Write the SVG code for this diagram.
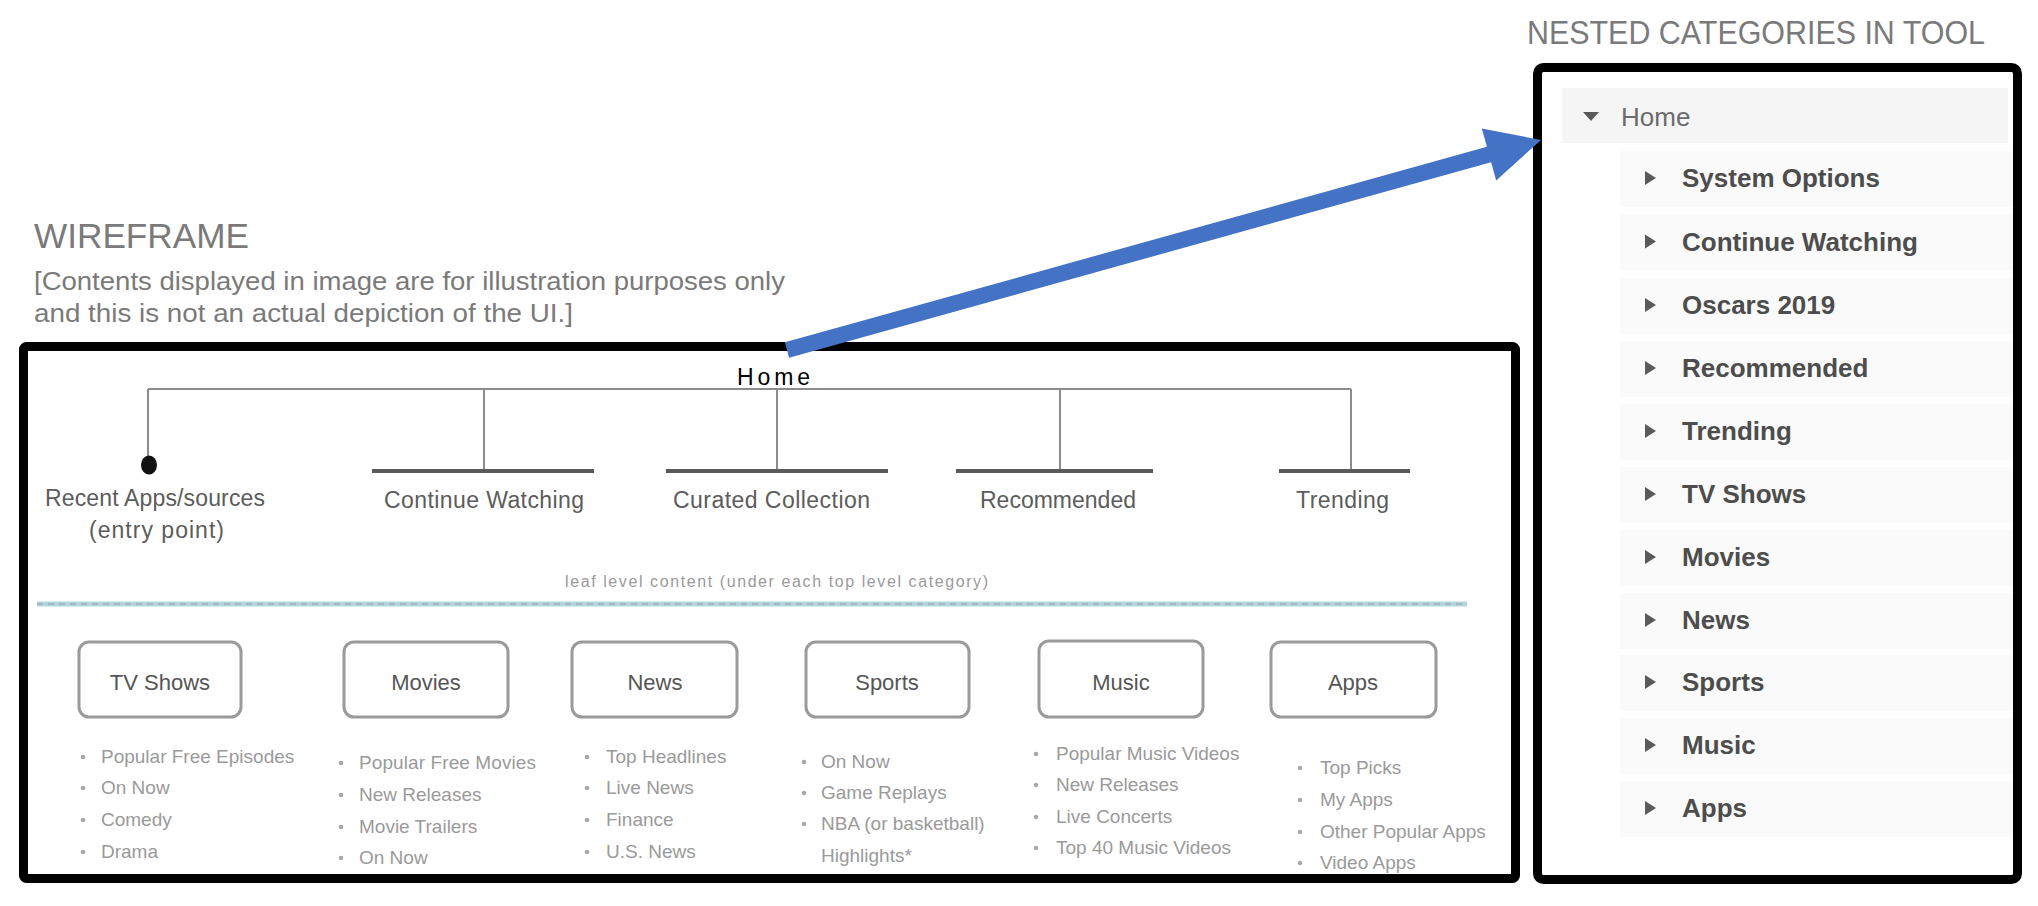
<svg xmlns="http://www.w3.org/2000/svg" width="2038" height="906" viewBox="0 0 2038 906">
<style>
  .head { font-family: "Liberation Sans", Arial, sans-serif; fill: #7a7a7a; }
  .lbl { font-family: "Liberation Sans", Arial, sans-serif; font-size: 23px; fill: #5c5c5c; }
  .box { fill: #ffffff; stroke: #9a9a9a; stroke-width: 3; }
  .boxt { font-family: "Liberation Sans", Arial, sans-serif; font-size: 22px; fill: #555555; text-anchor: middle; }
  .li { font-family: "Liberation Sans", Arial, sans-serif; font-size: 19px; fill: #9a9a9a; }
  .bul { fill: #a8a8a8; }
  .thin { stroke: #8c8c8c; stroke-width: 2; fill: none; }
  .bar { stroke: #5a5a5a; stroke-width: 4; fill: none; }
  .frame { fill: none; stroke: #000000; stroke-width: 9; }
  .row { fill: #fafafa; }
  .rowt { font-family: "Liberation Sans", Arial, sans-serif; font-size: 26px; font-weight: bold; fill: #4d4d4d; }
  .tri { fill: #5a5a5a; }
</style>

<!-- Headings -->
<g id="wireframe-title">
  <text class="head" x="34" y="248" font-size="35" textLength="215" lengthAdjust="spacingAndGlyphs">WIREFRAME</text>
  <text class="head" x="34" y="290" font-size="26" textLength="751" lengthAdjust="spacingAndGlyphs">[Contents displayed in image are for illustration purposes only</text>
  <text class="head" x="34" y="322" font-size="26" textLength="539" lengthAdjust="spacingAndGlyphs">and this is not an actual depiction of the UI.]</text>
</g>
<g id="tool-title">
  <text class="head" x="1527" y="44" font-size="34" textLength="458" lengthAdjust="spacingAndGlyphs">NESTED CATEGORIES IN TOOL</text>
</g>

<!-- Wireframe panel -->
<g id="wireframe">
  <g id="wf-home"><text x="737" y="385" font-family="Liberation Sans, Arial, sans-serif" font-size="23" fill="#000" textLength="73">Home</text></g>

  <g id="connectors">
    <path class="thin" d="M148 389 H1351 M148 389 V456 M484 389 V470 M777 389 V470 M1060 389 V470 M1351 389 V470"/>
    <path class="bar" d="M372 471 H594 M666 471 H888 M956 471 H1153 M1279 471 H1410"/>
    <ellipse cx="149" cy="465" rx="8" ry="9.5" fill="#111"/>
  </g>

  <g id="cat-recent"><text class="lbl" x="45" y="506" textLength="220">Recent Apps/sources</text><text class="lbl" x="89" y="538" textLength="135">(entry point)</text></g>
  <g id="cat-continue"><text class="lbl" x="384" y="508" textLength="200">Continue Watching</text></g>
  <g id="cat-curated"><text class="lbl" x="673" y="508" textLength="197">Curated Collection</text></g>
  <g id="cat-recommended"><text class="lbl" x="980" y="508" textLength="156">Recommended</text></g>
  <g id="cat-trending"><text class="lbl" x="1296" y="508" textLength="93">Trending</text></g>

  <g id="leaf-note">
    <text x="565" y="587" font-family="Liberation Sans, Arial, sans-serif" font-size="16" fill="#9a9a9a" textLength="423">leaf level content (under each top level category)</text>
    <line x1="37" y1="604" x2="1467" y2="604" stroke="#b3d6de" stroke-width="5"/>
    <line x1="37" y1="604" x2="1467" y2="604" stroke="#a3b8c0" stroke-width="2" stroke-dasharray="6 5"/>
  </g>

  <g id="leaf-tv">
    <rect class="box" x="79" y="642" width="162" height="75" rx="10"/>
    <text class="boxt" x="160" y="690">TV Shows</text>
    <circle class="bul" cx="83" cy="757" r="2.3"/><text class="li" x="101" y="763">Popular Free Episodes</text>
    <circle class="bul" cx="83" cy="788" r="2.3"/><text class="li" x="101" y="794">On Now</text>
    <circle class="bul" cx="83" cy="820" r="2.3"/><text class="li" x="101" y="826">Comedy</text>
    <circle class="bul" cx="83" cy="852" r="2.3"/><text class="li" x="101" y="858">Drama</text>
  </g>
  <g id="leaf-movies">
    <rect class="box" x="344" y="642" width="164" height="75" rx="10"/>
    <text class="boxt" x="426" y="690">Movies</text>
    <circle class="bul" cx="341" cy="763" r="2.3"/><text class="li" x="359" y="769" textLength="177">Popular Free Movies</text>
    <circle class="bul" cx="341" cy="795" r="2.3"/><text class="li" x="359" y="801">New Releases</text>
    <circle class="bul" cx="341" cy="827" r="2.3"/><text class="li" x="359" y="833">Movie Trailers</text>
    <circle class="bul" cx="341" cy="858" r="2.3"/><text class="li" x="359" y="864">On Now</text>
  </g>
  <g id="leaf-news">
    <rect class="box" x="572" y="642" width="165" height="75" rx="10"/>
    <text class="boxt" x="655" y="690">News</text>
    <circle class="bul" cx="587" cy="757" r="2.3"/><text class="li" x="606" y="763">Top Headlines</text>
    <circle class="bul" cx="587" cy="788" r="2.3"/><text class="li" x="606" y="794">Live News</text>
    <circle class="bul" cx="587" cy="820" r="2.3"/><text class="li" x="606" y="826">Finance</text>
    <circle class="bul" cx="587" cy="852" r="2.3"/><text class="li" x="606" y="858">U.S. News</text>
  </g>
  <g id="leaf-sports">
    <rect class="box" x="806" y="642" width="163" height="75" rx="10"/>
    <text class="boxt" x="887" y="690">Sports</text>
    <circle class="bul" cx="804" cy="762" r="2.3"/><text class="li" x="821" y="768">On Now</text>
    <circle class="bul" cx="804" cy="793" r="2.3"/><text class="li" x="821" y="799">Game Replays</text>
    <circle class="bul" cx="804" cy="824" r="2.3"/><text class="li" x="821" y="830">NBA (or basketball)</text>
    <text class="li" x="821" y="862">Highlights*</text>
  </g>
  <g id="leaf-music">
    <rect class="box" x="1039" y="641" width="164" height="76" rx="10"/>
    <text class="boxt" x="1121" y="690">Music</text>
    <circle class="bul" cx="1036" cy="754" r="2.3"/><text class="li" x="1056" y="760">Popular Music Videos</text>
    <circle class="bul" cx="1036" cy="785" r="2.3"/><text class="li" x="1056" y="791">New Releases</text>
    <circle class="bul" cx="1036" cy="817" r="2.3"/><text class="li" x="1056" y="823">Live Concerts</text>
    <circle class="bul" cx="1036" cy="848" r="2.3"/><text class="li" x="1056" y="854">Top 40 Music Videos</text>
  </g>
  <g id="leaf-apps">
    <rect class="box" x="1271" y="642" width="165" height="75" rx="10"/>
    <text class="boxt" x="1353" y="690">Apps</text>
    <circle class="bul" cx="1300" cy="768" r="2.3"/><text class="li" x="1320" y="774">Top Picks</text>
    <circle class="bul" cx="1300" cy="800" r="2.3"/><text class="li" x="1320" y="806">My Apps</text>
    <circle class="bul" cx="1300" cy="832" r="2.3"/><text class="li" x="1320" y="838">Other Popular Apps</text>
    <circle class="bul" cx="1300" cy="863" r="2.3"/><text class="li" x="1320" y="869">Video Apps</text>
  </g>

  <rect id="wf-frame" class="frame" x="23.5" y="346.5" width="1492" height="532" rx="3"/>
</g>

<!-- Nested categories panel -->
<g id="tool-panel">
  <g id="tool-home">
    <rect x="1562" y="88" width="446" height="55" fill="#f5f5f5"/>
    <polygon class="tri" points="1583,112 1599,112 1591,121"/>
    <text x="1621" y="126" font-family="Liberation Sans, Arial, sans-serif" font-size="26" fill="#6b6b6b">Home</text>
  </g>
  <g id="tool-system"><rect class="row" x="1620" y="151" width="394" height="56"/><polygon class="tri" points="1645,171 1656,178 1645,185"/><text class="rowt" x="1682" y="187">System Options</text></g>
  <g id="tool-continue"><rect class="row" x="1620" y="214" width="394" height="56"/><polygon class="tri" points="1645,234.5 1656,241.5 1645,248.5"/><text class="rowt" x="1682" y="250.5">Continue Watching</text></g>
  <g id="tool-oscars"><rect class="row" x="1620" y="278" width="394" height="56"/><polygon class="tri" points="1645,298 1656,305 1645,312"/><text class="rowt" x="1682" y="314">Oscars 2019</text></g>
  <g id="tool-recommended"><rect class="row" x="1620" y="341" width="394" height="56"/><polygon class="tri" points="1645,361 1656,368 1645,375"/><text class="rowt" x="1682" y="377">Recommended</text></g>
  <g id="tool-trending"><rect class="row" x="1620" y="404" width="394" height="56"/><polygon class="tri" points="1645,424 1656,431 1645,438"/><text class="rowt" x="1682" y="440">Trending</text></g>
  <g id="tool-tvshows"><rect class="row" x="1620" y="467" width="394" height="56"/><polygon class="tri" points="1645,487 1656,494 1645,501"/><text class="rowt" x="1682" y="503">TV Shows</text></g>
  <g id="tool-movies"><rect class="row" x="1620" y="530" width="394" height="56"/><polygon class="tri" points="1645,550 1656,557 1645,564"/><text class="rowt" x="1682" y="566">Movies</text></g>
  <g id="tool-news"><rect class="row" x="1620" y="593" width="394" height="56"/><polygon class="tri" points="1645,613 1656,620 1645,627"/><text class="rowt" x="1682" y="629">News</text></g>
  <g id="tool-sports"><rect class="row" x="1620" y="655" width="394" height="56"/><polygon class="tri" points="1645,675 1656,682 1645,689"/><text class="rowt" x="1682" y="691">Sports</text></g>
  <g id="tool-music"><rect class="row" x="1620" y="718" width="394" height="56"/><polygon class="tri" points="1645,738 1656,745 1645,752"/><text class="rowt" x="1682" y="754">Music</text></g>
  <g id="tool-apps"><rect class="row" x="1620" y="781" width="394" height="56"/><polygon class="tri" points="1645,801 1656,808 1645,815"/><text class="rowt" x="1682" y="817">Apps</text></g>
  <rect id="tool-frame" class="frame" x="1537.5" y="67.5" width="480" height="812" rx="6"/>
</g>

<!-- Blue arrow connector -->
<g id="arrow-connector">
  <polygon fill="#4472c4" points="784.9,342.3 1486.9,146.8 1481.8,128.5 1541,140 1496.2,180.5 1491.1,162.2 789.1,357.7"/>
</g>
</svg>
